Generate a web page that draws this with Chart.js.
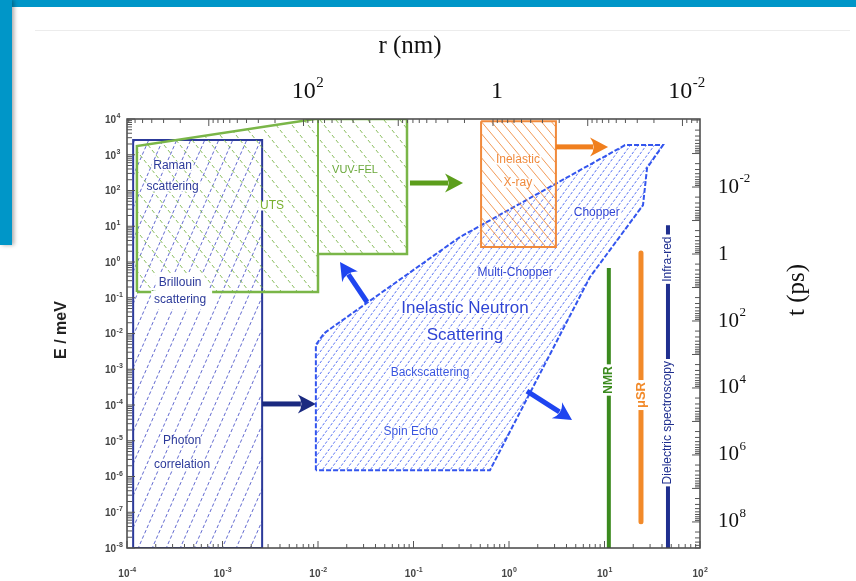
<!DOCTYPE html>
<html>
<head>
<meta charset="utf-8">
<script src="https://cdn.jsdelivr.net/npm/chart.js@4.4.0/dist/chart.umd.min.js"></script>
<style>
html, body { margin: 0; padding: 0; background: #fff; }
body { width: 856px; height: 581px; position: relative; overflow: hidden; }
#topband { position: absolute; left: 0; top: 0; width: 856px; height: 7px; background: #0096c8; }
#sideband { position: absolute; left: 0; top: 0; width: 12px; height: 245px; background: #0096c8; box-shadow: 2px 0 4px rgba(0,0,0,0.35); }
#rule { position: absolute; left: 35px; top: 30px; width: 815px; height: 1px; background: #ececec; }
#wrap { position: absolute; left: 0; top: 0; width: 856px; height: 581px; }
</style>
</head>
<body>
<div id="topband"></div>
<div id="sideband"></div>
<div id="rule"></div>
<div id="wrap"><canvas id="chart" width="856" height="581"></canvas></div>
<script>
// tick values of the four axes
const qTicks = [1e-4, 1e-3, 1e-2, 1e-1, 1, 10, 100];
const eTicks = [1e4, 1e3, 1e2, 1e1, 1, 1e-1, 1e-2, 1e-3, 1e-4, 1e-5, 1e-6, 1e-7, 1e-8];
const rTicks = [100, 1, 0.01];
const tTicks = [1e-2, 1, 1e2, 1e4, 1e6, 1e8];

// regions (Q in 1/A, E in meV)
const photonQ = [1.16e-4, 2.6e-3, 2.6e-3, 1.16e-4, 1.16e-4];
const photonE = [1e-8, 1e-8, 2.57e3, 2.57e3, 1e-8];
const lightQ = [1.27e-4, 1.27e-4, 9.3e-3, 8.55e-2, 8.55e-2, 1e-2, 1e-2, 1.27e-4];
const lightE = [0.145, 1.76e3, 1e4, 1e4, 1.67, 1.67, 0.145, 0.145];
const felEdgeQ = [1e-2, 1e-2];
const felEdgeE = [1e4, 1.67];
const xrayQ = [0.51, 3.1, 3.1, 0.51, 0.51];
const xrayE = [8.7e3, 8.7e3, 2.63, 2.63, 8.7e3];
const insQ = [9.5e-3, 9.5e-3, 1.16e-2, 0.307, 16.4, 41, 27.9, 25.3, 7.05, 0.632, 9.5e-3];
const insE = [1.5e-6, 4.8e-3, 1.02e-2, 5.0, 1.86e3, 1.86e3, 427, 38.9, 0.38, 1.5e-6, 1.5e-6];

// vertical bands of local probes
const nmrQ = [11.1, 11.1];
const nmrE = [0.68, 1e-8];
const musrQ = [24.1, 24.1];
const musrE = [1.78, 5.4e-8];
const dielQ = [46.2, 46.2];
const dielE = [10.7, 1e-8];

// arrows: from -> to
const arrowFromQ = [2.6e-3, 3.26e-2, 1.54, 9.18e-2, 3.1];
const arrowFromE = [1.07e-4, 7.6e-2, 2.45e-4, 162, 1.66e3];
const arrowToQ = [9.5e-3, 1.7e-2, 4.57, 0.33, 10.9];
const arrowToE = [1.07e-4, 1.0, 3.8e-5, 162, 1.66e3];
const arrowColors = ['#1b2a80', '#1f45f0', '#1f45f0', '#5c9e1c', '#f07f1e'];

// text labels
const labelText = ['Raman', 'scattering', 'Brillouin', 'scattering', 'Photon', 'correlation',
  'UTS', 'VUV-FEL', 'Inelastic', 'X-ray', 'Chopper', 'Multi-Chopper',
  'Inelastic Neutron', 'Scattering', 'Backscattering', 'Spin Echo'];
const labelQ = [3.0e-4, 3.0e-4, 3.6e-4, 3.6e-4, 3.77e-4, 3.77e-4,
  3.3e-3, 2.44e-2, 1.24, 1.24, 8.3, 1.16,
  0.346, 0.346, 0.149, 9.4e-2];
const labelE = [484, 125, 0.259, 0.0865, 9.8e-6, 2.1e-6,
  36.8, 374, 713, 162, 23.5, 0.49,
  0.0516, 9.1e-3, 7.9e-4, 1.76e-5];

const navy = '#2c3a9a', green = '#7ab648', orange = '#f08a3c', insBlue = '#3355ee';
const labelColor = [navy, navy, navy, navy, navy, navy,
  '#7ab030', '#6aa83a', '#f08a3c', '#f08a3c', '#2f44d4', '#2f44d4',
  '#2f44d4', '#2f44d4', '#3a56e0', '#3a56e0'];
const labelSize = [12, 12, 12, 12, 12, 12, 12, 11, 12, 12, 12, 12, 17, 17, 12, 12];
const labelPad = [1.5, 1.5, 3, 3, 1.5, 1.5, 1.5, 1.5, 1.5, 1.5, 1.5, 1.5, 2, 2, 1.5, 1.5];

function pts(qs, es) { return qs.map((q, i) => ({ x: q, y: es[i] })); }

function hatch(color, w, h, dir, lw, parts) {
  const c = document.createElement('canvas');
  c.width = w; c.height = h;
  const g = c.getContext('2d');
  g.strokeStyle = color; g.lineWidth = lw;
  if (parts) {
    const L = Math.hypot(w, h) / parts;
    g.setLineDash([L * 0.6, L * 0.4]);
  }
  for (let k = -1; k <= 1; k++) {
    g.beginPath();
    if (dir > 0) { g.moveTo(k * w, h); g.lineTo(k * w + w, 0); }
    else { g.moveTo(k * w, 0); g.lineTo(k * w + w, h); }
    g.stroke();
  }
  return g.createPattern(c, 'repeat');
}

function arrow(ctx, x1, y1, x2, y2, color, shaft, hl, hw) {
  const ang = Math.atan2(y2 - y1, x2 - x1), len = Math.hypot(x2 - x1, y2 - y1);
  ctx.save();
  ctx.translate(x1, y1); ctx.rotate(ang);
  ctx.fillStyle = color;
  ctx.fillRect(0, -shaft / 2, len - hl + 3, shaft);
  ctx.beginPath();
  ctx.moveTo(len, 0);
  ctx.lineTo(len - hl, -hw / 2);
  ctx.quadraticCurveTo(len - hl * 0.6, 0, len - hl, hw / 2);
  ctx.closePath(); ctx.fill();
  ctx.restore();
}

function text(ctx, s, x, y, color, font, rot, bg) {
  ctx.save();
  ctx.translate(x, y);
  if (rot) ctx.rotate(rot);
  ctx.font = font; ctx.textAlign = 'center'; ctx.textBaseline = 'middle';
  if (bg) {
    const w = ctx.measureText(s).width;
    ctx.fillStyle = '#fff';
    ctx.fillRect(-w / 2 - bg, -bg * 3, w + 2 * bg, bg * 6);
  }
  ctx.fillStyle = color;
  ctx.fillText(s, 0, 0);
  ctx.restore();
}

// "10" with raised exponent
function pow10(ctx, v, x, y, size, sup, family, weight, align) {
  const e = Math.round(Math.log10(v));
  const base = (e === 0 && family.indexOf('Serif') >= 0) ? '1' : '10';
  const exp = base === '1' ? '' : String(e);
  ctx.font = weight + ' ' + size + 'px ' + family;
  const wb = ctx.measureText(base).width;
  ctx.font = weight + ' ' + sup + 'px ' + family;
  const we = exp ? ctx.measureText(exp).width : 0;
  let x0 = x;
  if (align === 'center') x0 = x - (wb + we) / 2;
  if (align === 'right') x0 = x - wb - we;
  ctx.textAlign = 'left'; ctx.textBaseline = 'middle';
  ctx.font = weight + ' ' + size + 'px ' + family;
  ctx.fillText(base, x0, y);
  if (exp) {
    ctx.font = weight + ' ' + sup + 'px ' + family;
    ctx.fillText(exp, x0 + wb + 0.5, y - size * 0.38);
  }
}

function minorTicks(lo, hi) {
  const out = [];
  for (let d = Math.floor(Math.log10(lo)) - 1; d <= Math.ceil(Math.log10(hi)); d++) {
    for (let m = 1; m <= 9; m++) {
      const v = m * Math.pow(10, d);
      if (v >= lo && v <= hi) out.push({ v: v, major: m === 1 });
    }
  }
  return out;
}

const overlay = {
  id: 'overlay',
  afterDatasetsDraw(chart) {
    const ctx = chart.ctx, a = chart.chartArea;
    const X = chart.scales.x, Y = chart.scales.y, R = chart.scales.x2, T = chart.scales.y2;

    // arrows
    arrowColors.forEach((c, i) => {
      arrow(ctx, X.getPixelForValue(arrowFromQ[i]), Y.getPixelForValue(arrowFromE[i]),
        X.getPixelForValue(arrowToQ[i]), Y.getPixelForValue(arrowToE[i]), c, 5, 18, 19);
    });

    // white strip that breaks the green edge behind the Brillouin words
    ctx.save();
    ctx.fillStyle = '#fff';
    const bx = X.getPixelForValue(labelQ[2]), by = Y.getPixelForValue(0.145);
    ctx.fillRect(bx - 22, by - 3, 54, 6);
    ctx.restore();

    // region labels
    labelText.forEach((s, i) => {
      text(ctx, s, X.getPixelForValue(labelQ[i]), Y.getPixelForValue(labelE[i]), labelColor[i],
        labelSize[i] + 'px "Liberation Sans", Arial, sans-serif', 0, labelPad[i]);
    });

    // labels sitting on the vertical lines
    const up = -Math.PI / 2;
    text(ctx, 'NMR', X.getPixelForValue(nmrQ[0]), Y.getPixelForValue(5e-4), '#3b8a1e',
      'bold 12px "Liberation Sans", Arial, sans-serif', up, 2);
    text(ctx, '\u03bcSR', X.getPixelForValue(musrQ[0]), Y.getPixelForValue(1.9e-4), '#f28a2a',
      'bold 13px "Liberation Sans", Arial, sans-serif', up, 2);
    text(ctx, 'Dielectric spectroscopy', X.getPixelForValue(dielQ[0]), Y.getPixelForValue(3.2e-5), '#1f2f8f',
      '12px "Liberation Sans", Arial, sans-serif', up, 2);
    text(ctx, 'Infra-red', X.getPixelForValue(dielQ[0]), Y.getPixelForValue(1.2), '#1f2f8f',
      '12px "Liberation Sans", Arial, sans-serif', up, 2);

    // frame
    ctx.save();
    ctx.strokeStyle = '#444'; ctx.lineWidth = 1.5;
    ctx.strokeRect(a.left, a.top, a.right - a.left, a.bottom - a.top);

    // inward ticks
    ctx.lineWidth = 1; ctx.strokeStyle = '#555';
    ctx.beginPath();
    minorTicks(X.min, X.max).forEach(t => {
      const px = X.getPixelForValue(t.v), l = t.major ? 7 : 4;
      ctx.moveTo(px, a.bottom); ctx.lineTo(px, a.bottom - l);
    });
    minorTicks(R.min, R.max).forEach(t => {
      const px = R.getPixelForValue(t.v), l = t.major ? 7 : 4;
      ctx.moveTo(px, a.top); ctx.lineTo(px, a.top + l);
    });
    minorTicks(Y.min, Y.max).forEach(t => {
      const py = Y.getPixelForValue(t.v), l = t.major ? 8 : 5;
      ctx.moveTo(a.left, py); ctx.lineTo(a.left + l, py);
    });
    minorTicks(T.min, T.max).forEach(t => {
      const py = T.getPixelForValue(t.v), l = t.major ? 8 : 5;
      ctx.moveTo(a.right, py); ctx.lineTo(a.right - l, py);
    });
    ctx.stroke();

    // tick labels
    ctx.fillStyle = '#444';
    qTicks.forEach(v => pow10(ctx, v, X.getPixelForValue(v), a.bottom + 26, 10, 7, '"Liberation Sans", Arial, sans-serif', 'bold', 'center'));
    eTicks.forEach(v => pow10(ctx, v, a.left - 22, Y.getPixelForValue(v) + 1, 10, 7, '"Liberation Sans", Arial, sans-serif', 'bold', 'left'));
    ctx.fillStyle = '#111';
    rTicks.forEach(v => pow10(ctx, v, R.getPixelForValue(v) + 4, a.top - 27, 24, 15, '"Liberation Serif", "Times New Roman", serif', '', 'center'));
    tTicks.forEach(v => pow10(ctx, v, a.right + 18, T.getPixelForValue(v), 21, 13, '"Liberation Serif", "Times New Roman", serif', '', 'left'));

    // axis titles
    text(ctx, 'r (nm)', 410, 46, '#111', '25px "Liberation Serif", "Times New Roman", serif', 0, 0);
    text(ctx, 't (ps)', 797, 290, '#111', '25px "Liberation Serif", "Times New Roman", serif', up, 0);
    text(ctx, 'E / meV', 62, 330, '#222', 'bold 16px "Liberation Sans", Arial, sans-serif', up, 0);
    ctx.restore();
  }
};

const ctx = document.getElementById('chart').getContext('2d');

new Chart(ctx, {
  type: 'scatter',
  data: {
    datasets: [
      { data: pts(nmrQ, nmrE), showLine: true, borderColor: '#3b8a1e', borderWidth: 4, pointRadius: 0, borderCapStyle: 'butt' },
      { data: pts(musrQ, musrE), showLine: true, borderColor: '#f28a2a', borderWidth: 5, pointRadius: 0, borderCapStyle: 'round' },
      { data: pts(dielQ, dielE), showLine: true, borderColor: '#1f2f8f', borderWidth: 4, pointRadius: 0, borderCapStyle: 'butt' },
      { data: pts(xrayQ, xrayE), showLine: true, fill: 'shape', borderColor: orange, borderWidth: 2,
        backgroundColor: hatch('rgba(240,138,60,0.85)', 10, 12, -1, 1, 0), pointRadius: 0 },
      { data: pts(insQ, insE), showLine: true, fill: 'shape', borderColor: insBlue, borderWidth: 2, borderDash: [5, 2],
        backgroundColor: hatch('rgba(60,90,240,0.85)', 8, 11, 1, 1, 3), pointRadius: 0 },
      { data: pts(felEdgeQ, felEdgeE), showLine: true, borderColor: green, borderWidth: 2, pointRadius: 0 },
      { data: pts(lightQ, lightE), showLine: true, fill: 'shape', borderColor: green, borderWidth: 2.5,
        backgroundColor: hatch('rgba(120,180,70,0.85)', 16, 20, -1, 1, 4), pointRadius: 0 },
      { data: pts(photonQ, photonE), showLine: true, fill: 'shape', borderColor: navy, borderWidth: 2,
        backgroundColor: hatch('rgba(70,80,200,0.85)', 14, 32, 1, 1, 6), pointRadius: 0 }
    ]
  },
  options: {
    responsive: false,
    animation: false,
    layout: { padding: { left: 127, right: 156, top: 119, bottom: 33 } },
    plugins: { legend: { display: false }, tooltip: { enabled: false } },
    elements: { line: { tension: 0 } },
    scales: {
      x: { type: 'logarithmic', display: false, min: 1e-4, max: 100 },
      y: { type: 'logarithmic', display: false, min: 1e-8, max: 1e4 },
      x2: { type: 'logarithmic', display: false, position: 'top', min: 6.53e-3, max: 7300, reverse: true },
      y2: { type: 'logarithmic', display: false, position: 'right', min: 9.3e-5, max: 6.0e8, reverse: true }
    }
  },
  plugins: [overlay]
});
</script>
</body>
</html>
